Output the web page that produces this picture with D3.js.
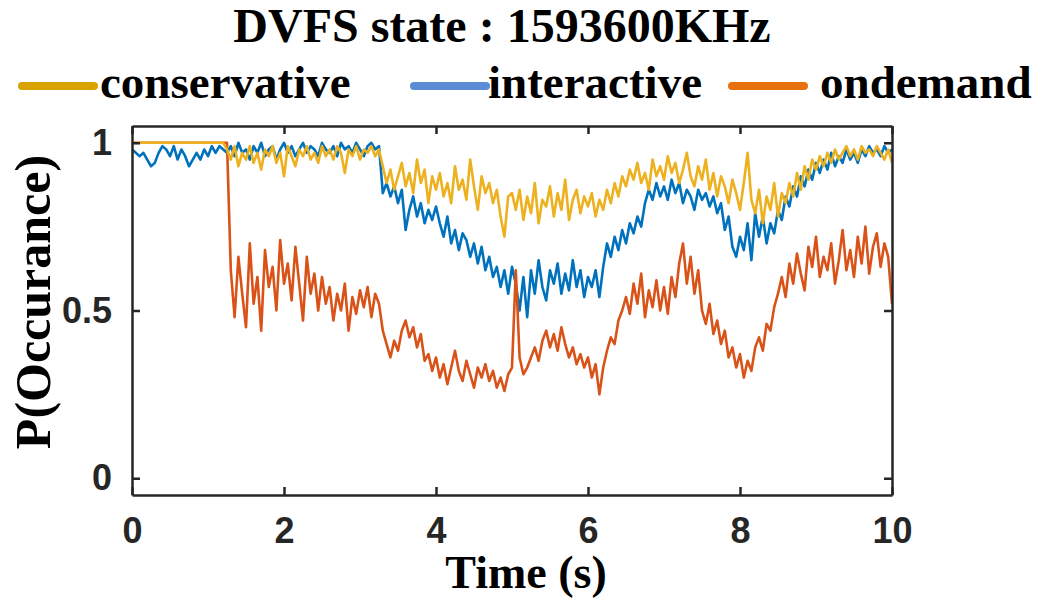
<!DOCTYPE html>
<html>
<head>
<meta charset="utf-8">
<title>DVFS state</title>
<style>
body { margin: 0; background: #fff; }
.serif { font-family: "Liberation Serif", "Times New Roman", serif; font-weight: bold; fill: #000; }
.axis text { font-family: "Liberation Sans", Arial, sans-serif; font-weight: bold; font-size: 36px; fill: #262626; }
.axis path, .axis line { stroke: #262626; stroke-width: 2.5px; }
path.trace { fill: none; stroke-width: 2.6px; stroke-linejoin: round; }
</style>
</head>
<body>
<script src="https://cdn.jsdelivr.net/npm/d3@7/dist/d3.min.js"></script>
<script>

// sample interval of the traces (s)
var dt = 0.05;

var xTicks = [0, 2, 4, 6, 8, 10];
var yTicks = [0, 0.5, 1];
var yTickLabels = ["0", "0.5", "1"];

// P(occurance), one value every 0.05 s from 0 to 10 s
var interactive = [
  .98,.97,.96,.97,.95,.93,.94,.97,.99,.98, .96,.99,.95,.98,.96,.93,.95,.97,.95,.98, .96,.99,.97,.99,.98,.97,
  .99,.96,1.0,.97,.98,.95,.99,.97,1.0,.96, .98,.99,.95,.98,1.0,.97,.99,.96,.98,1.0,
  .97,.99,.98,.96,1.0,.98,.97,.99,.96,1.0, .98,.99,.97,1.0,.98,.96,.99,1.0,.98,.99,
  .85,.88,.84,.87,.82,.86,.74,.80,.84,.78, .82,.76,.80,.77,.81,
  .76,.72,.78,.70,.74,.68,.73,.71,.66,.70, .64,.69,.62,.66,.60,.63,.57,.62,.55,.63,
  .58,.50,.60,.48,.62,.55,.65,.57,.53,.62, .58,.64,.55,.61,.56,.65,.57,.62,.54,.60,
  .57,.62,.54,.63,.70,.66,.72,.68,.74,.70, .76,.73,.78,.75,.82,.86,.83,.88,.84,.87,
  .83,.89,.85,.88,.82,.86,.84,.80,.86,.83, .85,.81,.84,.79,.82,.74,.78,.69,.66,.72,
  .68,.76,.65,.79,.72,.78,.70,.76,.73,.80, .77,.84,.81,.87,.84,.90,.87,.92,.89,.94,
  .91,.95,.92,.97,.93,.96,.94,.98,.95,.97, .94,.98,.96,.99,.97,.98,.96,.99,.97,.98
];

var ondemand = [
  1,1,1,1,1,1,1,1,1,1, 1,1,1,1,1,1,1,1,1,1, 1,1,1,1,1,1,
  .62,.48,.66,.55,.45,.70,.52,.60,.44,.68, .57,.63,.50,.71,.58,
  .64,.53,.69,.58,.47,.66,.55,.61,.50,.60, .52,.57,.47,.55,.50,.58,.44,.54,.49,.56,
  .51,.57,.48,.55,.52,
  .44,.40,.36,.41,.38,.44,.47,.42,.45,.39, .43,.35,.37,.32,.36,
  .30,.34,.28,.33,.38,.32,.29,.35,.31,.27, .33,.30,.34,.29,.32,.27,.30,.26,.31,.33,
  .62,.36,.31,.33,.36,.39,.35,.41,.44,.39, .43,.38,.45,.40,.36,.39,.34,.37,.33,.36,
  .30,.34,.25,.33,.38,.42,.40,.47,.50,.54, .49,.58,.52,.61,.48,.56,.51,.59,.50,.57,
  .49,.60,.54,.64,.70,.58,.66,.55,.62,.50, .46,.52,.43,.47,.40,.44,.36,.39,.33,.37,
  .30,.35,.32,.39,.42,.38,.46,.44,.51,.55, .60,.54,.64,.58,.67,.61,.56,.69,.63,.72,
  .60,.66,.62,.70,.58,.65,.74,.62,.68,.60, .72,.64,.75,.61,.69,.73,.63,.70,.66,.52
];

var conservative = [
  1,1,1,1,1,1,1,1,1,1, 1,1,1,1,1,1,1,1,1,1, 1,1,1,1,1,
  .98,.95,.99,.93,.97,.95,.99,.94,.97,.92, .98,.96,.99,.94,.97,.90,.99,.96,.93,.98,
  .96,.99,.95,.97,.94,.99,.96,.98,.95,.99, .97,.91,.98,.96,.99,.95,.98,.97,.99,.96, .98,
  .93,.88,.92,.86,.90,.94,.87,.91,.85,.95, .88,.92,.82,.90,.86,
  .91,.84,.88,.82,.93,.86,.89,.83,.95,.87, .80,.90,.85,.88,.82,.86,.78,.72,.84,.85,
  .80,.86,.77,.84,.79,.88,.76,.83,.81,.87, .78,.85,.80,.89,.77,.83,.86,.79,.84,.81,
  .85,.78,.83,.80,.86,.82,.88,.84,.90,.87, .92,.89,.94,.88,.91,.86,.95,.90,.93,.89,
  .96,.91,.94,.88,.92,.97,.90,.87,.93,.89, .95,.86,.91,.84,.90,.87,.82,.89,.85,.80,
  .88,.97,.83,.79,.86,.76,.84,.80,.88,.78, .85,.82,.88,.84,.91,.86,.93,.89,.95,.92,
  .96,.93,.97,.94,.98,.95,.97,.99,.96,.98, .95,.99,.97,.98,.96,.99,.97,.95,.98,.94
];

// drawing order: blue, orange, yellow (yellow ends up on top)
var series = [
  {name: "interactive",  values: interactive,  color: "#0072BD"},
  {name: "ondemand",     values: ondemand,     color: "#D95319"},
  {name: "conservative", values: conservative, color: "#EDB120"}
];

var legendItems = [
  {name: "conservative", color: "#D9A200"},
  {name: "interactive",  color: "#5A8DD6"},
  {name: "ondemand",     color: "#E8700F"}
];

var width = 1045,
    height = 602;
var plot = {left: 132, right: 892, top: 126, bottom: 495};

var svg = d3.select("body").append("svg")
    .attr("width", width)
    .attr("height", height);

var x = d3.scaleLinear().domain([0, 10]).range([plot.left, plot.right]);
var y = d3.scaleLinear().domain([-0.05, 1.05]).range([plot.bottom, plot.top]);

svg.append("clipPath").attr("id", "clip")
  .append("rect")
    .attr("x", plot.left).attr("y", plot.top)
    .attr("width", plot.right - plot.left).attr("height", plot.bottom - plot.top);

var line = d3.line()
    .x(function(d, i) { return x(i * dt); })
    .y(function(d) { return y(d); });

svg.append("g").attr("clip-path", "url(#clip)")
  .selectAll("path")
  .data(series)
  .enter().append("path")
    .attr("class", "trace")
    .attr("stroke", function(d) { return d.color; })
    .attr("d", function(d) { return line(d.values); });

// box with inward ticks on all four sides
var tickLen = 8;
svg.append("g").attr("class", "axis")
    .attr("transform", "translate(0," + plot.bottom + ")")
    .call(d3.axisBottom(x).tickValues(xTicks).tickFormat(d3.format("d"))
      .tickSizeInner(-tickLen).tickSizeOuter(0).tickPadding(22));
svg.append("g").attr("class", "axis")
    .attr("transform", "translate(0," + plot.top + ")")
    .call(d3.axisTop(x).tickValues(xTicks).tickFormat("")
      .tickSizeInner(-tickLen).tickSizeOuter(0));
svg.append("g").attr("class", "axis")
    .attr("transform", "translate(" + plot.left + ",0)")
    .call(d3.axisLeft(y).tickValues(yTicks)
      .tickFormat(function(d, i) { return yTickLabels[i]; })
      .tickSizeInner(-tickLen).tickSizeOuter(0).tickPadding(20));
svg.append("g").attr("class", "axis")
    .attr("transform", "translate(" + plot.right + ",0)")
    .call(d3.axisRight(y).tickValues(yTicks).tickFormat("")
      .tickSizeInner(-tickLen).tickSizeOuter(0));

// title and axis labels
svg.append("text").attr("class", "serif")
    .attr("x", 502).attr("y", 42)
    .attr("text-anchor", "middle")
    .style("font-size", "48px")
    .text("DVFS state : 1593600KHz");

svg.append("text").attr("class", "serif")
    .attr("x", 526).attr("y", 588)
    .attr("text-anchor", "middle")
    .style("font-size", "46px")
    .text("Time (s)");

svg.append("text").attr("class", "serif")
    .attr("transform", "translate(50,302) rotate(-90)")
    .attr("text-anchor", "middle")
    .style("font-size", "50px")
    .text("P(Occurance)");

// legend
var legendX = [18, 410, 728];
var legendTextX = [100, 488, 820];
var legend = svg.selectAll(".legend")
  .data(legendItems)
  .enter().append("g")
    .attr("class", "legend");

legend.append("line")
    .attr("x1", function(d, i) { return legendX[i] + 4; })
    .attr("x2", function(d, i) { return legendX[i] + 76; })
    .attr("y1", 86).attr("y2", 86)
    .attr("stroke", function(d) { return d.color; })
    .attr("stroke-width", 8)
    .attr("stroke-linecap", "round");

legend.append("text").attr("class", "serif")
    .attr("x", function(d, i) { return legendTextX[i]; })
    .attr("y", 98)
    .style("font-size", "47px")
    .text(function(d) { return d.name; });

</script>
</body>
</html>
